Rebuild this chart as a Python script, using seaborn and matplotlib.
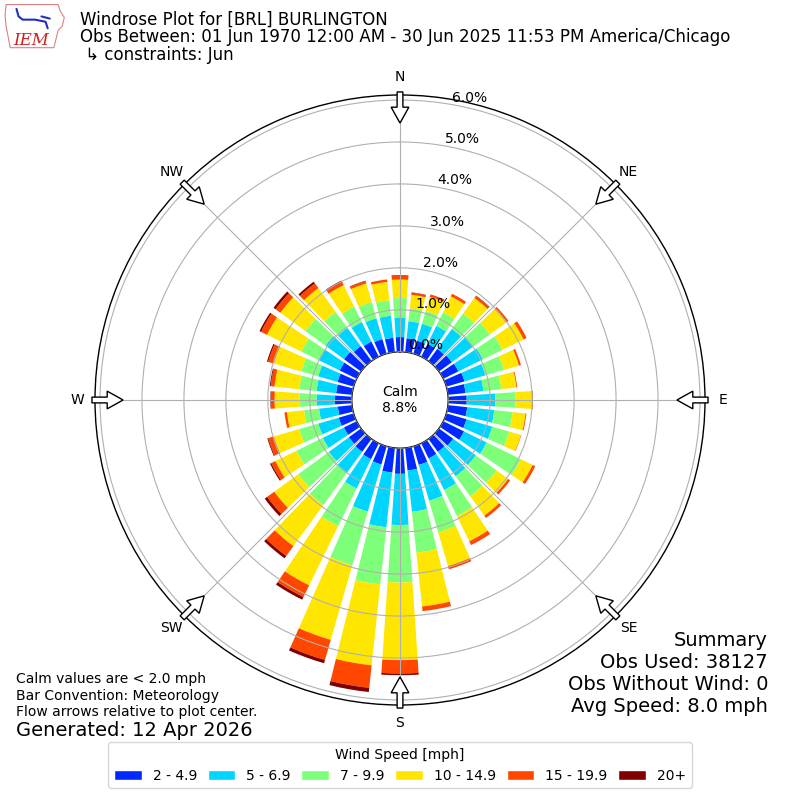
import numpy as np
import matplotlib
matplotlib.use("Agg")
import matplotlib.pyplot as plt
import seaborn as sns
from matplotlib.patches import FancyArrow, Polygon, Patch

# direcciones cada 10 grados (de donde sopla el viento)
directions = np.arange(0, 360, 10)
speed_labels = ["2 - 4.9", "5 - 6.9", "7 - 9.9", "10 - 14.9", "15 - 19.9", "20+"]

# porcentaje de observaciones por direccion y rango de velocidad
spd_2_5 = [0.35, 0.33, 0.32, 0.34, 0.36, 0.38, 0.40, 0.45, 0.42, 0.44, 0.46, 0.50,
           0.55, 0.42, 0.38, 0.40, 0.46, 0.54, 0.61, 0.59, 0.45, 0.42, 0.38, 0.36,
           0.34, 0.37, 0.34, 0.40, 0.38, 0.40, 0.45, 0.50, 0.44, 0.40, 0.36, 0.34]
spd_5_7 = [0.47, 0.41, 0.42, 0.48, 0.59, 0.62, 0.65, 0.52, 0.43, 0.68, 0.65, 0.64,
           0.60, 0.67, 0.72, 0.84, 0.89, 0.99, 1.22, 1.31, 1.17, 0.78, 0.62, 0.59,
           0.56, 0.51, 0.45, 0.44, 0.47, 0.48, 0.56, 0.55, 0.54, 0.52, 0.52, 0.53]
spd_7_10 = [0.46, 0.31, 0.32, 0.36, 0.45, 0.50, 0.52, 0.46, 0.43, 0.48, 0.44, 0.42,
            0.91, 0.61, 0.59, 0.69, 0.78, 0.98, 1.37, 1.37, 1.33, 1.00, 0.95, 0.90,
            0.70, 0.47, 0.36, 0.40, 0.41, 0.42, 0.46, 0.59, 0.47, 0.41, 0.40, 0.37]
spd_10_15 = [0.44, 0.32, 0.35, 0.42, 0.46, 0.48, 0.56, 0.37, 0.36, 0.40, 0.31, 0.29,
             0.31, 0.34, 0.57, 0.67, 0.84, 1.29, 1.85, 1.94, 1.85, 1.57, 1.21, 0.71,
             0.56, 0.63, 0.41, 0.60, 0.60, 0.68, 0.91, 0.74, 0.70, 0.57, 0.46, 0.44]
spd_15_20 = [0.10, 0.05, 0.06, 0.07, 0.06, 0.07, 0.08, 0.05, 0.02, 0.02, 0.02, 0.01,
             0.07, 0.06, 0.07, 0.10, 0.08, 0.11, 0.32, 0.54, 0.50, 0.31, 0.29, 0.21,
             0.11, 0.14, 0.06, 0.09, 0.09, 0.14, 0.16, 0.14, 0.14, 0.09, 0.06, 0.06]
spd_20_up = [0.01, 0.01, 0.00, 0.00, 0.01, 0.00, 0.00, 0.00, 0.00, 0.00, 0.00, 0.00,
             0.00, 0.00, 0.00, 0.00, 0.00, 0.00, 0.04, 0.10, 0.08, 0.07, 0.07, 0.07,
             0.03, 0.02, 0.00, 0.01, 0.02, 0.03, 0.04, 0.06, 0.05, 0.03, 0.01, 0.00]
speed_bins = [spd_2_5, spd_5_7, spd_7_10, spd_10_15, spd_15_20, spd_20_up]

calm_pct = 8.8
r_ticks = [0, 1, 2, 3, 4, 5, 6]
compass = ["N", "NE", "E", "SE", "S", "SW", "W", "NW"]
summary_lines = ["Summary", "Obs Used: 38127", "Obs Without Wind: 0", "Avg Speed: 8.0 mph"]

sns.set_style("white")
plt.rcParams["font.family"] = ["DejaVu Sans"]
plt.rcParams["text.color"] = "black"
plt.rcParams["xtick.color"] = "black"
plt.rcParams["ytick.color"] = "black"

colores = sns.color_palette(plt.get_cmap("jet")(np.linspace(0, 1, 7)[1:]))

fig = plt.figure(figsize=(8, 8), dpi=100)
ax = fig.add_axes([0.11875, 0.11875, 0.7625, 0.7625], projection="polar")
ax.set_theta_zero_location("N")
ax.set_theta_direction(-1)

theta = np.deg2rad(directions)
base = np.zeros(len(directions))
for vals, col, lab in zip(speed_bins, colores, speed_labels):
    vals = np.array(vals)
    ax.bar(theta, vals, width=np.deg2rad(7.8), bottom=base, color=col,
           label=lab, linewidth=0, zorder=1)
    base += vals

ax.set_rorigin(-1.15)
ax.set_ylim(0, 6.12)
ax.set_yticks(r_ticks)
ax.set_yticklabels([f"{v:.1f}%" for v in r_ticks], fontsize=10)
ax.set_rlabel_position(10)
ax.set_xticks(np.deg2rad(np.arange(0, 360, 45)))
ax.set_xticklabels(compass, fontsize=10)
ax.tick_params(axis="x", pad=2.5)
ax.set_axisbelow(False)
ax.grid(True, color="#b0b0b0", linewidth=0.8)
for sp in ax.spines.values():
    sp.set_color("black")
    sp.set_linewidth(1.0)

# flechas de flujo en los 8 puntos cardinales
for ang in np.deg2rad(np.arange(0, 360, 45)):
    ux, uy = np.sin(ang), np.cos(ang)
    r0 = 0.505
    x0, y0 = 0.5 + r0 * ux, 0.5 + r0 * uy
    ln = 0.051
    ax.add_patch(FancyArrow(x0, y0, -ln * ux, -ln * uy, width=0.0095,
                            head_width=0.029, head_length=0.026,
                            length_includes_head=True, transform=ax.transAxes,
                            facecolor="white", edgecolor="black", linewidth=1,
                            clip_on=False, zorder=5))

ax.text(0.5, 0.5, f"Calm\n{calm_pct:.1f}%", transform=ax.transAxes,
        ha="center", va="center", fontsize=10, zorder=6)

# titulo
fig.text(0.1, 1 - 20 / 800, "Windrose Plot for [BRL] BURLINGTON", fontsize=12, va="center")
fig.text(0.1, 1 - 37.5 / 800,
         "Obs Between: 01 Jun 1970 12:00 AM - 30 Jun 2025 11:53 PM America/Chicago",
         fontsize=12, va="center")
fig.text(0.1, 1 - 55 / 800, " ↳ constraints: Jun", fontsize=12, va="center")

# logo IEM aproximado
lax = fig.add_axes([0.005, 0.935, 0.078, 0.062])
lax.set_xlim(0, 60)
lax.set_ylim(0, 46)
lax.axis("off")
lax.add_patch(Polygon([[2, 44], [52, 44], [54, 38], [58, 32], [56, 24], [52, 20],
                       [50, 12], [48, 4], [6, 4], [4, 14], [2, 24], [1, 34]],
                      closed=True, fill=False, edgecolor="#e08080", linewidth=0.8))
lax.plot([12, 14, 18, 30, 40, 42], [40, 33, 30, 30, 28, 22], color="#2030c0", lw=1.5)
lax.plot([36, 44], [33, 31], color="#2030c0", lw=1.5)
lax.text(26, 11, "IEM", color="#d02020", fontsize=12, ha="center", va="center",
         family="DejaVu Serif", style="italic")

# notas
fig.text(0.02, 1 - 679 / 800, "Calm values are < 2.0 mph", fontsize=10, va="center")
fig.text(0.02, 1 - 696 / 800, "Bar Convention: Meteorology", fontsize=10, va="center")
fig.text(0.02, 1 - 712 / 800, "Flow arrows relative to plot center.", fontsize=10, va="center")
fig.text(0.02, 1 - 730 / 800, "Generated: 12 Apr 2026", fontsize=14, va="center")

for i, linea in enumerate(summary_lines):
    fig.text(0.96, 1 - (640 + 22 * i) / 800, linea, fontsize=14, ha="right", va="center")

handles = [Patch(facecolor=c, label=l) for c, l in zip(colores, speed_labels)]
fig.legend(handles=handles, loc="lower center", ncol=6, fontsize=10,
           title="Wind Speed [mph]", title_fontsize=10, columnspacing=0.75,
           bbox_to_anchor=(0.5, 0.006), frameon=True)

fig.savefig("out.png", dpi=100)
